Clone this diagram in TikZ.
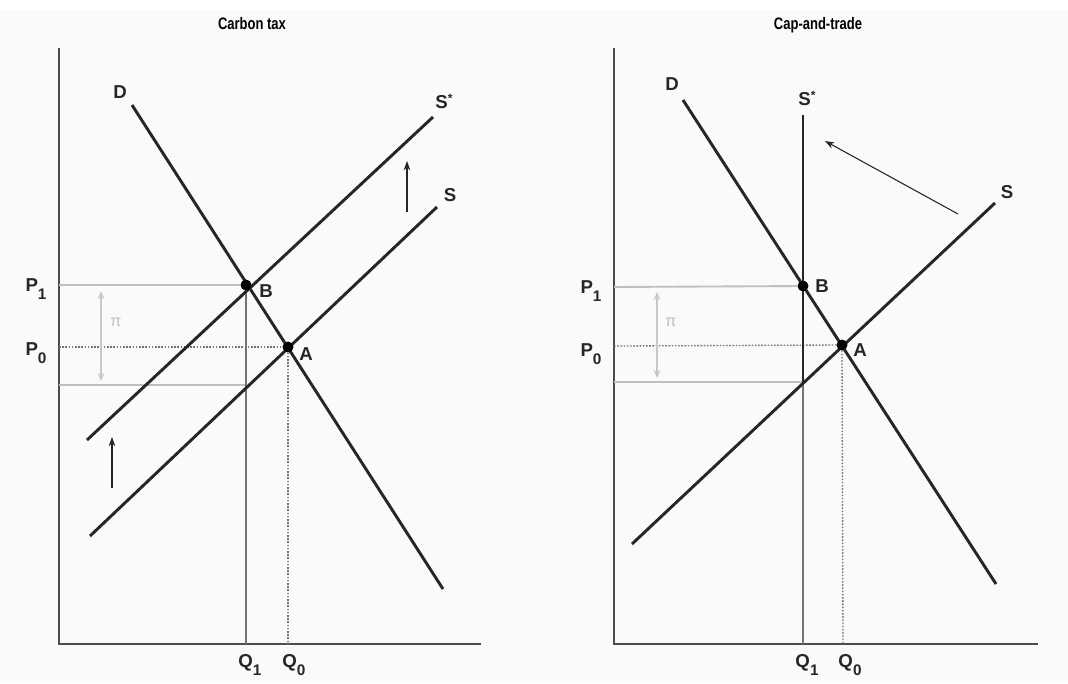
\documentclass[tikz,border=0pt]{standalone}
\usepackage{fontspec}
\setmainfont{Liberation Sans}
\usetikzlibrary{arrows.meta}
\newcommand{\sbs}[1]{\raisebox{-5.5pt}{\fontsize{11.5}{12}\selectfont #1}}
\newcommand{\sps}{\raisebox{4.5pt}{\fontsize{9}{10}\selectfont *}}
\begin{document}
\begin{tikzpicture}[x=0.75pt,y=-0.75pt,
  axisline/.style={draw=black!70,line width=1.3pt},
  curve/.style={draw=black!85,line width=2.2pt},
  guide/.style={draw=black!25,line width=1.4pt},
  qline/.style={draw=black!55,line width=1.4pt},
  dotline/.style={draw=black!55,line width=1pt,dash pattern=on 1.2pt off 1.2pt},
  pt/.style={circle,fill=black,inner sep=0pt,minimum size=8pt},
  lab/.style={font=\bfseries\fontsize{14}{16}\selectfont,text=black!85,inner sep=1pt},
  ttl/.style={font=\bfseries\fontsize{12.5}{14}\selectfont,inner sep=0pt,xscale=0.78,anchor=base},
  shiftarrow/.style={draw=black!85,line width=0.8pt,-{Stealth[length=7pt,width=5pt]}},
  piarrow/.style={draw=black!22,line width=1.3pt,{Stealth[length=6pt,width=5pt]}-{Stealth[length=6pt,width=5pt]}},
  pilab/.style={text=black!25,font=\fontsize{12}{13}\selectfont,inner sep=0pt}]
\useasboundingbox (0,0) rectangle (1068,683);
\fill[black!2] (0,10) rectangle (1068,683);

% ===== Left panel: Carbon tax =====
\node[ttl] (t1) at (252,29) {Carbon tax};
\coordinate (lO) at (59,644);
\coordinate (lYt) at (59,48);
\coordinate (lXe) at (481,644);
\draw[axisline] (lYt) -- (lO) -- (lXe);

\node[pt] (lB) at (246,285) {};
\node[pt] (lA) at (288,347) {};
\coordinate (lP1) at (59,285);
\coordinate (lP0) at (59,347);
\coordinate (lPl) at (59,385);
\coordinate (lC) at (246,385);
\coordinate (lQ1) at (246,644);
\coordinate (lQ0) at (288,644);

\draw[guide] (lP1) -- (lB);
\draw[guide] (lPl) -- (lC);
\draw[dotline] (lP0) -- (lA);
\draw[dotline] (lA) -- (lQ0);
\draw[qline] (lB) -- (lQ1);

\coordinate (lDs) at (132,105);
\coordinate (lDe) at (443,589);
\coordinate (lSs) at (90,536);
\coordinate (lSe) at (437,207);
\coordinate (lS2s) at (87,440);
\coordinate (lS2e) at (433,117);
\draw[curve] (lDs) -- (lDe);
\draw[curve] (lSs) -- (lSe);
\draw[curve] (lS2s) -- (lS2e);
\node[pt] at (lB) {};
\node[pt] at (lA) {};

\node[lab] (lDl) at (120,92) {D};
\node[lab] (lSl) at (450,195) {S};
\node[lab] (lS2l) at (444,101) {S\sps};
\node[lab] (lBl) at (266,291) {B};
\node[lab] (lAl) at (306,354) {A};
\node[lab] (lP1l) at (36,289) {P\sbs{1}};
\node[lab] (lP0l) at (36,353) {P\sbs{0}};
\node[lab] (lQ1l) at (250,665) {Q\sbs{1}};
\node[lab] (lQ0l) at (294,665) {Q\sbs{0}};

\coordinate (lpa) at (101,291);
\coordinate (lpb) at (101,381);
\draw[piarrow] (lpa) -- (lpb);
\node[pilab] (lpi) at (116,322) {π};

\coordinate (la1s) at (112,488);
\coordinate (la1e) at (112,437);
\draw[shiftarrow] (la1s) -- (la1e);
\coordinate (la2s) at (407,212);
\coordinate (la2e) at (407,161);
\draw[shiftarrow] (la2s) -- (la2e);

% ===== Right panel: Cap-and-trade =====
\node[ttl] (t2) at (818,29) {Cap-and-trade};
\coordinate (rO) at (614,644);
\coordinate (rYt) at (614,48);
\coordinate (rXe) at (1038,644);
\draw[axisline] (rYt) -- (rO) -- (rXe);

\node[pt] (rB) at (803,286) {};
\node[pt] (rA) at (842,345) {};
\coordinate (rP1) at (614,287);
\coordinate (rP0) at (614,346);
\coordinate (rPl) at (614,382);
\coordinate (rC) at (803,382);
\coordinate (rQ1) at (803,644);
\coordinate (rQ0) at (843,644);
\coordinate (rStop) at (803,115);

\draw[guide] (rP1) -- (rB);
\draw[guide] (rPl) -- (rC);
\draw[dotline] (rP0) -- (rA);
\draw[dotline] (rA) -- (rQ0);
\draw[qline] (rC) -- (rQ1);
\draw[curve,line width=2pt] (rStop) -- (rC);

\coordinate (rDs) at (683,100);
\coordinate (rDe) at (996,584);
\coordinate (rSs) at (632,544);
\coordinate (rSe) at (995,203);
\draw[curve] (rDs) -- (rDe);
\draw[curve] (rSs) -- (rSe);
\node[pt] at (rB) {};
\node[pt] at (rA) {};

\node[lab] (rDl) at (672,84) {D};
\node[lab] (rSl) at (1007,192) {S};
\node[lab] (rS2l) at (807,98) {S\sps};
\node[lab] (rBl) at (822,286) {B};
\node[lab] (rAl) at (860,350) {A};
\node[lab] (rP1l) at (591,291) {P\sbs{1}};
\node[lab] (rP0l) at (591,354) {P\sbs{0}};
\node[lab] (rQ1l) at (807,665) {Q\sbs{1}};
\node[lab] (rQ0l) at (850,665) {Q\sbs{0}};

\coordinate (rpa) at (657,292);
\coordinate (rpb) at (657,378);
\draw[piarrow] (rpa) -- (rpb);
\node[pilab] (rpi) at (671,322) {π};

\coordinate (ras) at (958,214);
\coordinate (rae) at (825,141);
\draw[shiftarrow] (ras) -- (rae);
\end{tikzpicture}
\end{document}
